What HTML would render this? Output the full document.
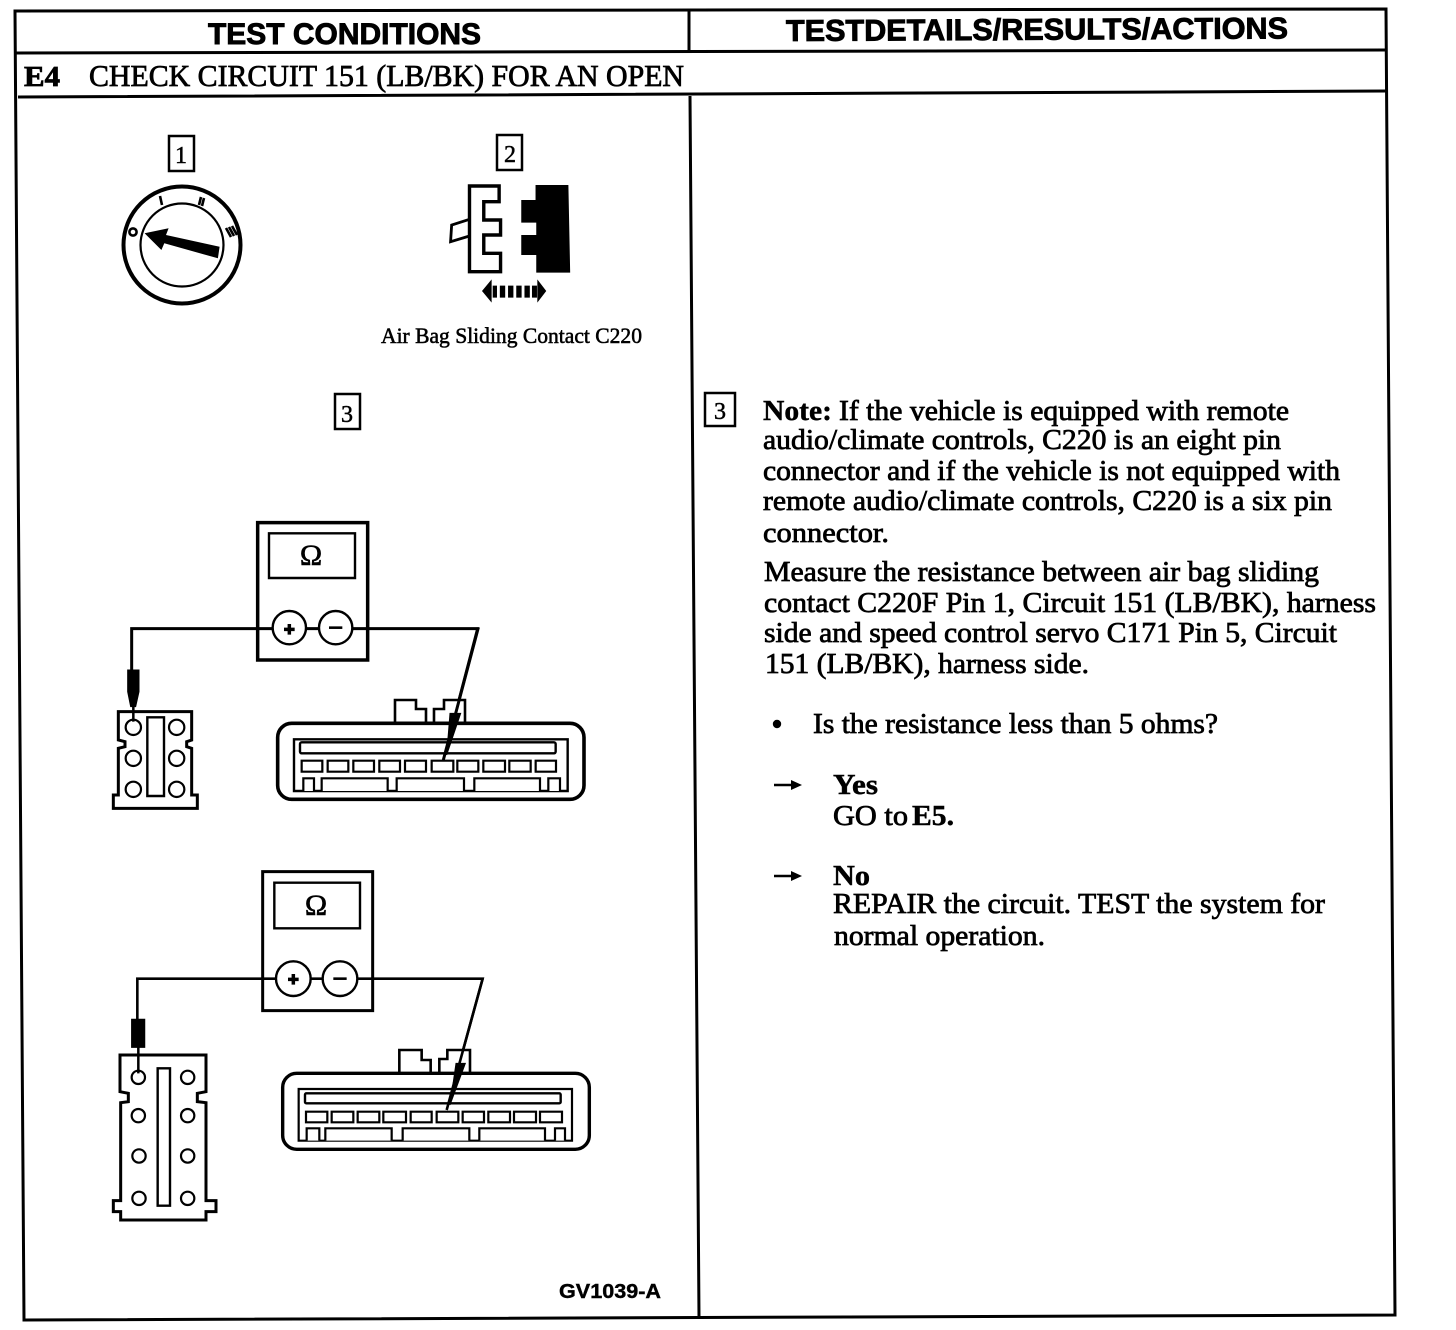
<!DOCTYPE html>
<html><head><meta charset="utf-8"><style>
html,body{margin:0;padding:0;background:#fff}
svg{display:block}
.s{font-family:"Liberation Serif",serif;font-size:28.5px;fill:#000;stroke:#000;stroke-width:.75}
.b{font-weight:bold;stroke-width:.45}
.h{font-family:"Liberation Sans",sans-serif;font-weight:bold;font-size:30px;fill:#000;stroke:#000;stroke-width:.9}
.k{font-family:"Liberation Serif",serif;font-size:24px;fill:#000;stroke:#000;stroke-width:.5}
.l{fill:none;stroke:#000}
.c circle,.c rect,.c path{fill:#fff;stroke:#000;vector-effect:non-scaling-stroke}
</style></head><body>
<svg width="1456" height="1330" viewBox="0 0 1456 1330" xmlns="http://www.w3.org/2000/svg">
<rect width="1456" height="1330" fill="#fff"/>
<!-- frame -->
<path class="l" stroke-width="3" d="M15 11L1386 9L1395 1315L24 1320Z"/>
<path class="l" stroke-width="3" d="M15 53L1386 50M18 97L1387 91M689 11L689 53M690 96L699 1317"/>

<!-- headers -->
<text class="h" x="208" y="44" textLength="273" lengthAdjust="spacingAndGlyphs">TEST CONDITIONS</text>
<text class="h" x="786" y="41" textLength="502" lengthAdjust="spacingAndGlyphs" transform="rotate(-.3 786 41)">TESTDETAILS/RESULTS/ACTIONS</text>
<text class="s b" x="24" y="86" textLength="36" lengthAdjust="spacingAndGlyphs" style="font-size:29px;stroke-width:.8">E4</text>
<text class="s" x="89" y="86" textLength="595" lengthAdjust="spacingAndGlyphs" style="font-size:31px">CHECK CIRCUIT 151 (LB/BK) FOR AN OPEN</text>

<!-- numbered boxes -->
<g class="l" stroke-width="2.5">
<rect x="169" y="136" width="25" height="35"/>
<rect x="497" y="135" width="25" height="35"/>
<rect x="335" y="394" width="25" height="35"/>
<rect x="705" y="393" width="30" height="33"/>
</g>
<text class="k" x="181" y="163" text-anchor="middle">1</text>
<text class="k" x="510" y="162" text-anchor="middle">2</text>
<text class="k" x="347" y="422" text-anchor="middle">3</text>
<text class="k" x="720" y="419" text-anchor="middle">3</text>

<!-- ignition -->
<circle class="l" cx="182" cy="245" r="58.5" stroke-width="4"/>
<circle class="l" cx="182" cy="245" r="41.5" stroke-width="2.2"/>
<path d="M144.6 233.3L168.6 228.3L166 235L219.6 246.7L217.9 258.3L164.3 243.3L161.4 250Z" fill="#000"/>
<circle class="l" cx="133" cy="232" r="3.6" stroke-width="2.6"/>
<path class="l" stroke-width="2.6" d="M160 196L162 205M201 197L199 205M204 198L202 206M226 228L231 237M229 227L234 236M232 226L237 235"/>

<!-- connector 2 -->
<g transform="translate(100,120) scale(.357,.3333)">
<path class="l" style="vector-effect:non-scaling-stroke" stroke-width="3.4" d="M1035 198L1118 198L1118 245L1075 245L1075 300L1122 300L1122 345L1075 345L1075 400L1122 400L1122 455L1035 455Z"/>
<path class="l" style="vector-effect:non-scaling-stroke" stroke-width="2.8" d="M1035 298L985 315L982 365L1035 348"/>
<path fill="#000" d="M1220 195L1312 195L1317 458L1222 458L1222 405L1180 405L1180 345L1222 345L1222 308L1180 308L1180 240L1220 240Z"/>
<path fill="#000" d="M1070 513L1097 478L1097 548ZM1250 513L1225 478L1225 548ZM1100 497H1112V533H1100ZM1120 497H1135V533H1120ZM1143 497H1158V533H1143ZM1166 497H1181V533H1166ZM1189 497H1204V533H1189ZM1210 497H1224V533H1210Z"/>
</g>
<text x="381" y="343" textLength="261" lengthAdjust="spacingAndGlyphs" style="font-family:'Liberation Serif',serif;font-size:22px;stroke:#000;stroke-width:.55">Air Bag Sliding Contact C220</text>

<!-- assembly 1 -->
<g transform="translate(90,510) scale(.33333)" class="c">
<rect x="503" y="38" width="330" height="412" stroke-width="3.5"/>
<rect x="537" y="70" width="258" height="134" stroke-width="2.4"/>
<path d="M125 480V356H1163L1060 750" style="fill:none" stroke-width="3"/>
<circle cx="598" cy="353" r="50" stroke-width="2.4"/>
<circle cx="737" cy="353" r="50" stroke-width="2.4"/>
<path d="M85 605H305V690L290 695V710L305 715V855H322V895H70V855H85V715L105 710V695L85 690Z" stroke-width="3"/>
<circle cx="130" cy="652" r="23" stroke-width="2.2"/><circle cx="260" cy="652" r="23" stroke-width="2.2"/>
<circle cx="130" cy="745" r="23" stroke-width="2.2"/><circle cx="260" cy="745" r="23" stroke-width="2.2"/>
<circle cx="130" cy="838" r="23" stroke-width="2.2"/><circle cx="260" cy="838" r="23" stroke-width="2.2"/>
<rect x="172" y="622" width="50" height="236" stroke-width="2.4"/>
<path d="M915 645V570H978V597H1008V645" stroke-width="2.6"/>
<path d="M1032 645V597H1062V570H1125V645" stroke-width="2.6"/>
<rect x="563" y="640" width="919" height="228" rx="42" stroke-width="3.6"/>
<rect x="612" y="688" width="821" height="155" stroke-width="2.4"/>
<rect x="630" y="697" width="767" height="33" rx="5" stroke-width="2.4"/>
<g stroke-width="2.2">
<rect x="635" y="752" width="62" height="33"/><rect x="713" y="752" width="62" height="33"/><rect x="790" y="752" width="62" height="33"/><rect x="868" y="752" width="62" height="33"/><rect x="945" y="752" width="63" height="33"/><rect x="1025" y="752" width="65" height="33"/><rect x="1102" y="752" width="63" height="33"/><rect x="1180" y="752" width="65" height="33"/><rect x="1258" y="752" width="64" height="33"/><rect x="1337" y="752" width="61" height="33"/>
<path d="M640 843V805H672V843M695 843V805H893V843M920 843V805H1122V843M1153 843V805H1350V843M1375 843V805H1410V843"/>
</g>
<path d="M113 480H147V545L137 590H122L113 545Z" style="fill:#000" stroke-width="1"/>
<path d="M130 590V635" style="fill:none" stroke-width="2.5"/>
<path d="M1165 353L1060 750" style="fill:none" stroke-width="3"/>
<path d="M1080 610H1112L1070 735Z" style="fill:#000" stroke-width="1"/>
<path d="M582 358H614M598 342V374" style="fill:none" stroke-width="3.5"/>
<path d="M717 353H757" style="fill:none" stroke-width="2.6"/>
</g>
<text x="311" y="565" text-anchor="middle" style="font-family:'Liberation Serif',serif;font-size:30px;stroke:#000;stroke-width:.6">Ω</text>

<!-- assembly 2 -->
<g transform="translate(90,860) scale(.33333)" class="c">
<rect x="518" y="35" width="330" height="417" stroke-width="3"/>
<rect x="553" y="68" width="257" height="137" stroke-width="2.4"/>
<path d="M142 480V356H1178L1070 750" style="fill:none" stroke-width="2.6"/>
<circle cx="610" cy="356" r="52" stroke-width="2.4"/>
<circle cx="750" cy="356" r="52" stroke-width="2.4"/>
<path d="M90 585H348V695L322 700V725L348 728V1022H378V1055H348V1080H92V1055H70V1022H92V728L115 725V700L90 695Z" stroke-width="3"/>
<circle cx="145" cy="652" r="20" stroke-width="2.2"/><circle cx="293" cy="652" r="20" stroke-width="2.2"/>
<circle cx="145" cy="767" r="20" stroke-width="2.2"/><circle cx="293" cy="767" r="20" stroke-width="2.2"/>
<circle cx="147" cy="888" r="20" stroke-width="2.2"/><circle cx="293" cy="888" r="20" stroke-width="2.2"/>
<circle cx="147" cy="1015" r="20" stroke-width="2.2"/><circle cx="293" cy="1015" r="20" stroke-width="2.2"/>
<rect x="203" y="625" width="37" height="412" stroke-width="2.4"/>
<path d="M928 645V570H995V600H1022V645" stroke-width="2.6"/>
<path d="M1048 645V597H1072V570H1140V645" stroke-width="2.6"/>
<rect x="578" y="640" width="920" height="228" rx="42" stroke-width="3.4"/>
<rect x="626" y="687" width="820" height="155" stroke-width="2.2"/>
<rect x="645" y="700" width="767" height="30" rx="4" stroke-width="2.4"/>
<g stroke-width="2.2">
<rect x="648" y="755" width="64" height="32"/><rect x="725" y="755" width="65" height="32"/><rect x="803" y="755" width="65" height="32"/><rect x="880" y="755" width="68" height="32"/><rect x="962" y="755" width="63" height="32"/><rect x="1040" y="755" width="65" height="32"/><rect x="1118" y="755" width="64" height="32"/><rect x="1195" y="755" width="65" height="32"/><rect x="1272" y="755" width="66" height="32"/><rect x="1350" y="755" width="66" height="32"/>
<path d="M650 842V805H688V842M706 842V805H905V842M938 842V805H1138V842M1168 842V805H1365V842M1395 842V805H1425V842"/>
</g>
<path d="M127 480H162V560H127ZM145 560V640" style="fill:#000" stroke-width="2.5"/>
<path d="M1178 356L1070 750" style="fill:none" stroke-width="2.6"/>
<path d="M1098 610H1126L1080 735Z" style="fill:#000" stroke-width="1"/>
<path d="M594 358H626M610 342V374" style="fill:none" stroke-width="3.5"/>
<path d="M730 356H770" style="fill:none" stroke-width="2.6"/>
</g>
<text x="316" y="915" text-anchor="middle" style="font-family:'Liberation Serif',serif;font-size:30px;stroke:#000;stroke-width:.6">Ω</text>

<text x="559" y="1298" textLength="102" lengthAdjust="spacingAndGlyphs" style="font-family:'Liberation Sans',sans-serif;font-weight:bold;font-size:20px;stroke:#000;stroke-width:.4">GV1039-A</text>

<!-- right text -->
<text class="s b" x="763" y="420" textLength="69" lengthAdjust="spacingAndGlyphs">Note:</text>
<text class="s" x="839" y="420" textLength="450" lengthAdjust="spacingAndGlyphs">If the vehicle is equipped with remote</text>
<text class="s" x="763" y="449" textLength="518" lengthAdjust="spacingAndGlyphs">audio/climate controls, C220 is an eight pin</text>
<text class="s" x="763" y="480" textLength="577" lengthAdjust="spacingAndGlyphs">connector and if the vehicle is not equipped with</text>
<text class="s" x="763" y="510" textLength="569" lengthAdjust="spacingAndGlyphs">remote audio/climate controls, C220 is a six pin</text>
<text class="s" x="763" y="542" textLength="126" lengthAdjust="spacingAndGlyphs">connector.</text>
<text class="s" x="764" y="581" textLength="555" lengthAdjust="spacingAndGlyphs">Measure the resistance between air bag sliding</text>
<text class="s" x="764" y="612" textLength="612" lengthAdjust="spacingAndGlyphs">contact C220F Pin 1, Circuit 151 (LB/BK), harness</text>
<text class="s" x="764" y="642" textLength="573" lengthAdjust="spacingAndGlyphs">side and speed control servo C171 Pin 5, Circuit</text>
<text class="s" x="765" y="673" textLength="324" lengthAdjust="spacingAndGlyphs">151 (LB/BK), harness side.</text>
<circle cx="777" cy="724" r="4.2" fill="#000"/>
<text class="s" x="813" y="733" textLength="405" lengthAdjust="spacingAndGlyphs">Is the resistance less than 5 ohms?</text>
<path d="M774 785H796" stroke="#000" stroke-width="2.4"/><path d="M802 785L791 780V790Z" fill="#000"/>
<text class="s b" x="833" y="794" textLength="45" lengthAdjust="spacingAndGlyphs">Yes</text>
<text class="s" x="833" y="825" textLength="75" lengthAdjust="spacingAndGlyphs">GO to</text>
<text class="s b" x="912" y="825" textLength="42" lengthAdjust="spacingAndGlyphs">E5.</text>
<path d="M774 876H796" stroke="#000" stroke-width="2.4"/><path d="M802 876L791 871V881Z" fill="#000"/>
<text class="s b" x="833" y="885" textLength="37" lengthAdjust="spacingAndGlyphs">No</text>
<text class="s" x="833" y="913" textLength="492" lengthAdjust="spacingAndGlyphs">REPAIR the circuit. TEST the system for</text>
<text class="s" x="834" y="945" textLength="211" lengthAdjust="spacingAndGlyphs">normal operation.</text>
</svg>
</body></html>
